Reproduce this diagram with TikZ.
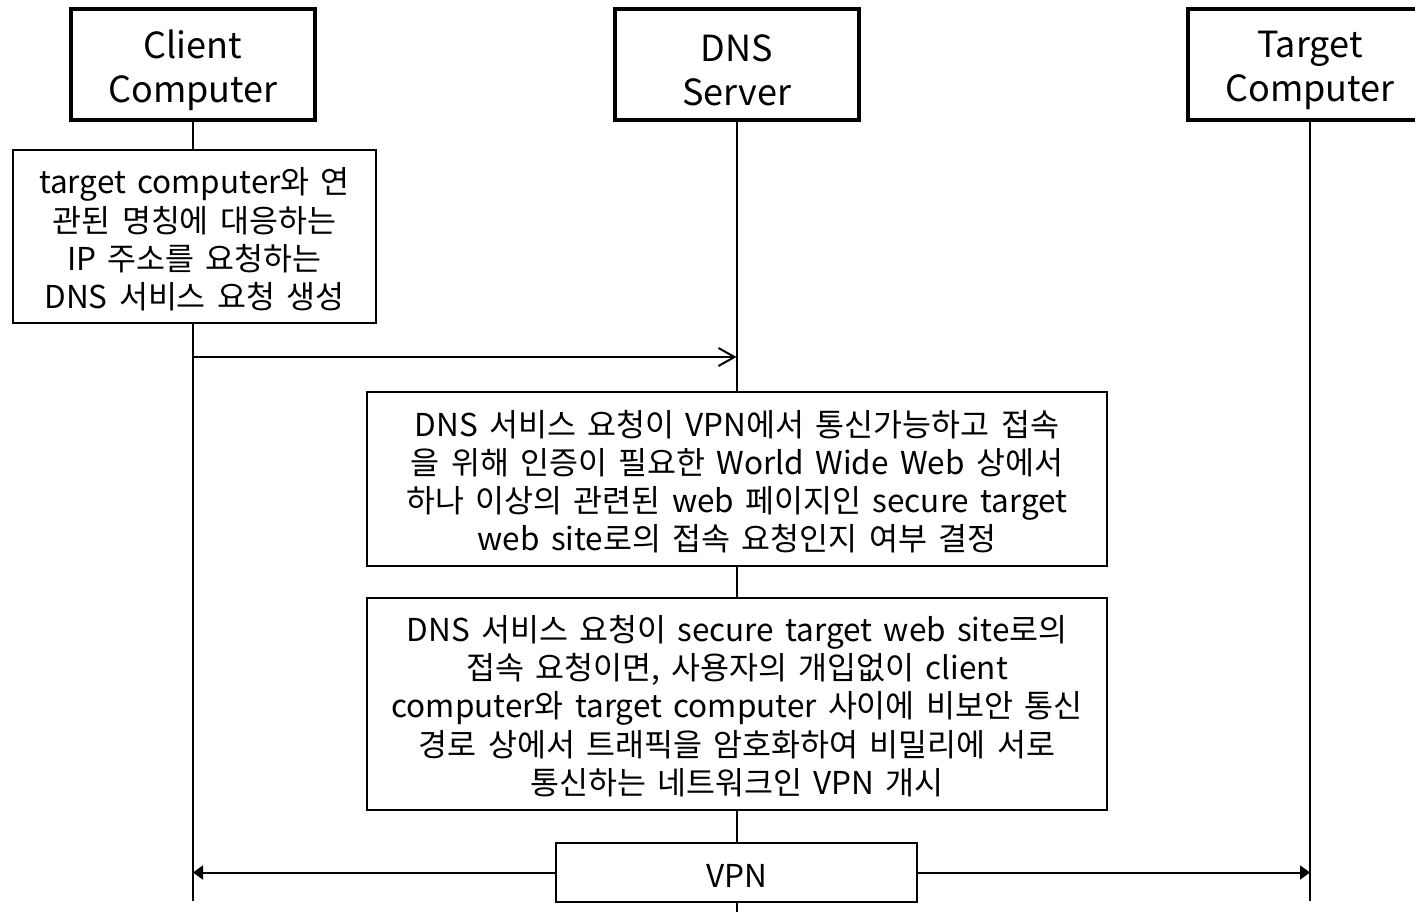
\documentclass[tikz,border=0pt]{standalone}
\usepackage{fontspec}
\setmainfont{Noto Sans CJK KR}[WordSpace=1.6]
\usetikzlibrary{arrows.meta}

\tikzset{
  actor/.style={draw, line width=4pt, fill=white, minimum width=244pt, minimum height=111pt,
    inner sep=0pt},
  actortext/.style={inner sep=0pt, align=center, font=\fontsize{36}{44}\selectfont},
  stepbox/.style={draw, line width=1.8pt, fill=white, inner sep=0pt},
  steptext/.style={inner sep=0pt, align=center, font=\fontsize{31.5}{38.2}\selectfont},
  lifeline/.style={line width=2pt},
  msg/.style={line width=2pt, -{Straight Barb[length=16pt,width=18pt,line width=2pt]}},
  vpnarrow/.style={line width=2pt, -{Triangle[length=10pt,width=14pt]}}
}

\begin{document}
\begin{tikzpicture}[x=1pt, y=-1pt]
  \useasboundingbox (0,0) rectangle (1415,912);
  \clip (0,0) rectangle (1415,912);

  % participants
  \node[actor] (client) at (193,64.5) {};
  \node[actor] (dns)    at (736.5,64.5) {};
  \node[actor] (target) at (1310,64.5) {};
  \node[actortext] (clientLbl) at ([yshift=-6pt]client.center) {Client\\Computer};
  \node[actortext] (dnsLbl)    at ([yshift=-6pt]dns.center) {DNS\\Server};
  \node[actortext] (targetLbl) at ([yshift=-6pt]target.center) {Target\\Computer};

  % lifeline ends
  \coordinate (clientEnd) at (193,901);
  \coordinate (dnsEnd)    at (736.5,914);
  \coordinate (targetEnd) at (1310,901);

  \draw[lifeline] (client.south) -- (clientEnd);
  \draw[lifeline] (dns.south) -- (dnsEnd);
  \draw[lifeline] (target.south) -- (targetEnd);

  % processing steps
  \node[stepbox, minimum width=363pt, minimum height=173pt] (gen) at (194.5,236.5) {};
  \node[steptext] (genLbl) at ([yshift=-3pt]gen.center)
    {target computer와 연\\관된 명칭에 대응하는\\IP 주소를 요청하는\\DNS 서비스 요청 생성};

  \coordinate (req) at (193,357);
  \draw[msg] (req) -- (req -| dns);

  \node[stepbox, minimum width=740pt, minimum height=174pt] (check) at (737,479) {};
  \node[steptext] (checkLbl) at ([yshift=-2.5pt]check.center)
    {DNS 서비스 요청이 VPN에서 통신가능하고 접속\\을 위해 인증이 필요한 World Wide Web 상에서\\하나 이상의 관련된 web 페이지인 secure target\\web site로의 접속 요청인지 여부 결정};

  \node[stepbox, minimum width=740pt, minimum height=212pt] (start) at (737,704) {};
  \node[steptext] (startLbl) at ([yshift=-2pt]start.center)
    {DNS 서비스 요청이 secure target web site로의\\접속 요청이면, 사용자의 개입없이 client\\computer와 target computer 사이에 비보안 통신\\경로 상에서 트래픽을 암호화하여 비밀리에 서로\\통신하는 네트워크인 VPN 개시};

  % VPN tunnel
  \node[stepbox, minimum width=361pt, minimum height=59pt] (vpn) at (736.5,872.5) {};
  \node[steptext] (vpnLbl) at ([yshift=-3pt]vpn.center) {VPN};
  \draw[vpnarrow] (vpn.west) -- (vpn.west -| client);
  \draw[vpnarrow] (vpn.east) -- (vpn.east -| target);
\end{tikzpicture}
\end{document}
